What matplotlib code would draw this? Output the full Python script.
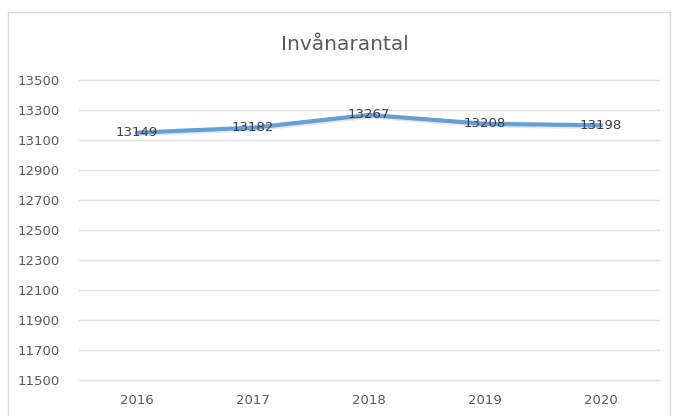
import matplotlib
matplotlib.use("Agg")
import matplotlib.pyplot as plt
from matplotlib.patches import Rectangle
import matplotlib.patheffects as pe

years = ["2016", "2017", "2018", "2019", "2020"]
values = [13149, 13182, 13267, 13208, 13198]
yticks = list(range(11500, 13501, 200))
title = "Invånarantal"

W, H = 674, 416
fig = plt.figure(figsize=(W / 100, H / 100), dpi=100)
fig.patch.set_facecolor("white")

# chart border
fig.patches.append(Rectangle((8 / W, -0.05), (662 / W), 1.05 - 12 / H,
                             transform=fig.transFigure, fill=False,
                             edgecolor="#d9d9d9", linewidth=1.0))

ax = fig.add_axes([79 / W, 1 - 380 / H, (659 - 79) / W, 300 / H])
x = list(range(len(years)))
ax.plot(x, values, color="#649fd6", linewidth=3.0, solid_capstyle="round",
        path_effects=[pe.SimpleLineShadow(offset=(0.8, -1.2), shadow_color="#b0b0b0", alpha=0.3),
                      pe.Normal()], zorder=3)

for xi, v in zip(x, values):
    ax.text(xi, v, str(v), ha="center", va="center", fontsize=9.5,
            color="#404040", zorder=4)

ax.set_xlim(-0.5, len(years) - 0.5)
ax.set_ylim(11500, 13500)
ax.set_yticks(yticks)
ax.set_yticklabels([str(t) for t in yticks])
ax.set_xticks(x)
ax.set_xticklabels(years)
ax.tick_params(axis="both", length=0, labelsize=9.5, colors="#595959")
ax.tick_params(axis="y", pad=14)
ax.tick_params(axis="x", pad=10)
ax.grid(axis="y", color="#e0e0e0", linewidth=1.0)
for gl in ax.get_ygridlines():
    gl.set_clip_on(False)
ax.set_axisbelow(True)
for s in ax.spines.values():
    s.set_visible(False)

fig.text(345 / W, 1 - 44 / H, title, ha="center", va="center",
         fontsize=14.5, color="#595959")

fig.savefig("out.png", dpi=100)
